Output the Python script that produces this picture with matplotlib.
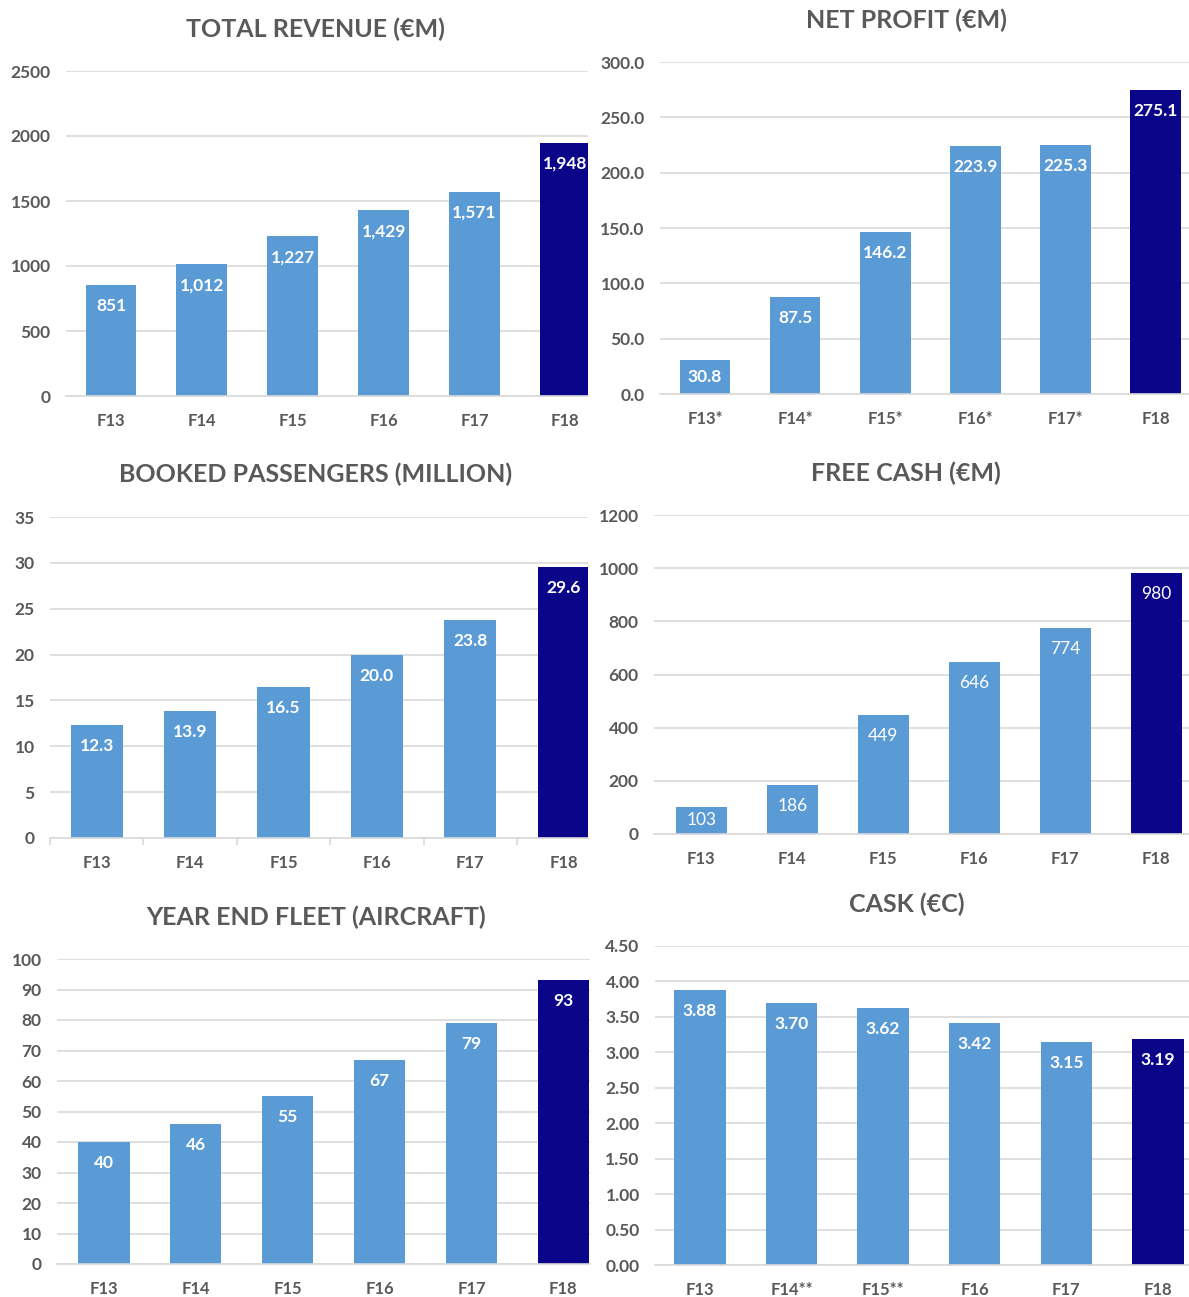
import numpy as np
import matplotlib
matplotlib.use("Agg")
import matplotlib.pyplot as plt

plt.rcParams['font.family'] = ['Lato', 'DejaVu Sans']

W, H = 1189, 1297
LIGHT = "#5B9BD5"
DARK = "#0A0589"
GRID = "#D9D9D9"
TXT = "#595959"

years = ["F13", "F14", "F15", "F16", "F17", "F18"]
profit_years = ["F13*", "F14*", "F15*", "F16*", "F17*", "F18"]
cask_years = ["F13", "F14**", "F15**", "F16", "F17", "F18"]

revenue = [851, 1012, 1227, 1429, 1571, 1948]
net_profit = [30.8, 87.5, 146.2, 223.9, 225.3, 275.1]
passengers = [12.3, 13.9, 16.5, 20.0, 23.8, 29.6]
free_cash = [103, 186, 449, 646, 774, 980]
fleet = [40, 46, 55, 67, 79, 93]
cask = [3.88, 3.70, 3.62, 3.42, 3.15, 3.19]

fig = plt.figure(figsize=(W / 100, H / 100), dpi=100)


def panel(title, cats, vals, fmt, yticks, yfmt, left, right, y0, ytop, xlim,
          title_xy, label_bold=True, axis_ticks=False):
    ax = fig.add_axes([left / W, 1 - y0 / H, (right - left) / W, (y0 - ytop) / H])
    x = np.arange(len(cats))
    colors = [LIGHT] * (len(cats) - 1) + [DARK]
    ax.bar(x, vals, width=0.56, color=colors, zorder=2)
    ax.set_yticks(yticks)
    ax.set_yticklabels([yfmt.format(t) for t in yticks])
    ax.yaxis.grid(True, color=GRID, lw=1.2, zorder=0)
    for s in ["top", "right", "left"]:
        ax.spines[s].set_visible(False)
    ax.spines["bottom"].set_color(GRID)
    ax.spines["bottom"].set_linewidth(1.2)
    ax.tick_params(axis="y", length=0, pad=11, labelsize=12.5, labelcolor=TXT)
    ax.set_xticks(x)
    if axis_ticks:
        ax.set_xticks(np.arange(-0.5, len(cats), 1), minor=True)
        ax.tick_params(axis="x", which="minor", length=5, color=GRID, width=1.2)
        ax.tick_params(axis="x", which="major", length=0, pad=12)
    else:
        ax.tick_params(axis="x", length=0, pad=12)
    ax.set_xticklabels(cats, fontsize=12, color=TXT, fontweight="bold")
    for lab in ax.get_yticklabels():
        lab.set_fontweight("bold")
    ax.set_xlim(*xlim)
    ax.set_ylim(yticks[0], yticks[-1])
    px_per_unit = (y0 - ytop) / (yticks[-1] - yticks[0])
    for xi, v in zip(x, vals):
        off = min(21, v * px_per_unit / 2) / px_per_unit
        ax.text(xi, v - off, fmt.format(v), ha="center", va="center",
                color="white", fontsize=12.5,
                fontweight="bold" if label_bold else "normal", zorder=3)
    fig.text(title_xy[0] / W, 1 - title_xy[1] / H, title, ha="center", va="center",
             fontsize=18, fontweight="bold", color=TXT)
    return ax


panel("TOTAL REVENUE (€M)", years, revenue, "{:,.0f}", np.arange(0, 2501, 500), "{:.0f}",
      66, 588, 396, 71, (-0.496, 5.25), (315, 29))
panel("NET PROFIT (€M)", profit_years, net_profit, "{:.1f}", np.arange(0, 301, 50), "{:.1f}",
      660, 1189, 394, 62, (-0.5, 5.37), (906, 20))
panel("BOOKED PASSENGERS (MILLION)", years, passengers, "{:.1f}", np.arange(0, 36, 5), "{:.0f}",
      50, 588, 838, 517, (-0.5, 5.26), (316, 474), axis_ticks=True)
panel("FREE CASH (€M)", years, free_cash, "{:.0f}", np.arange(0, 1201, 200), "{:.0f}",
      654, 1189, 834, 515, (-0.52, 5.36), (906, 473), label_bold=False)
panel("YEAR END FLEET (AIRCRAFT)", years, fleet, "{:.0f}", np.arange(0, 101, 10), "{:.0f}",
      57, 590, 1264, 959, (-0.51, 5.29), (316, 917))
panel("CASK (€C)", cask_years, cask, "{:.2f}", np.arange(0, 4.51, 0.5), "{:.2f}",
      655, 1189, 1265, 946, (-0.49, 5.34), (907, 904))

fig.savefig("out.png", dpi=100)
